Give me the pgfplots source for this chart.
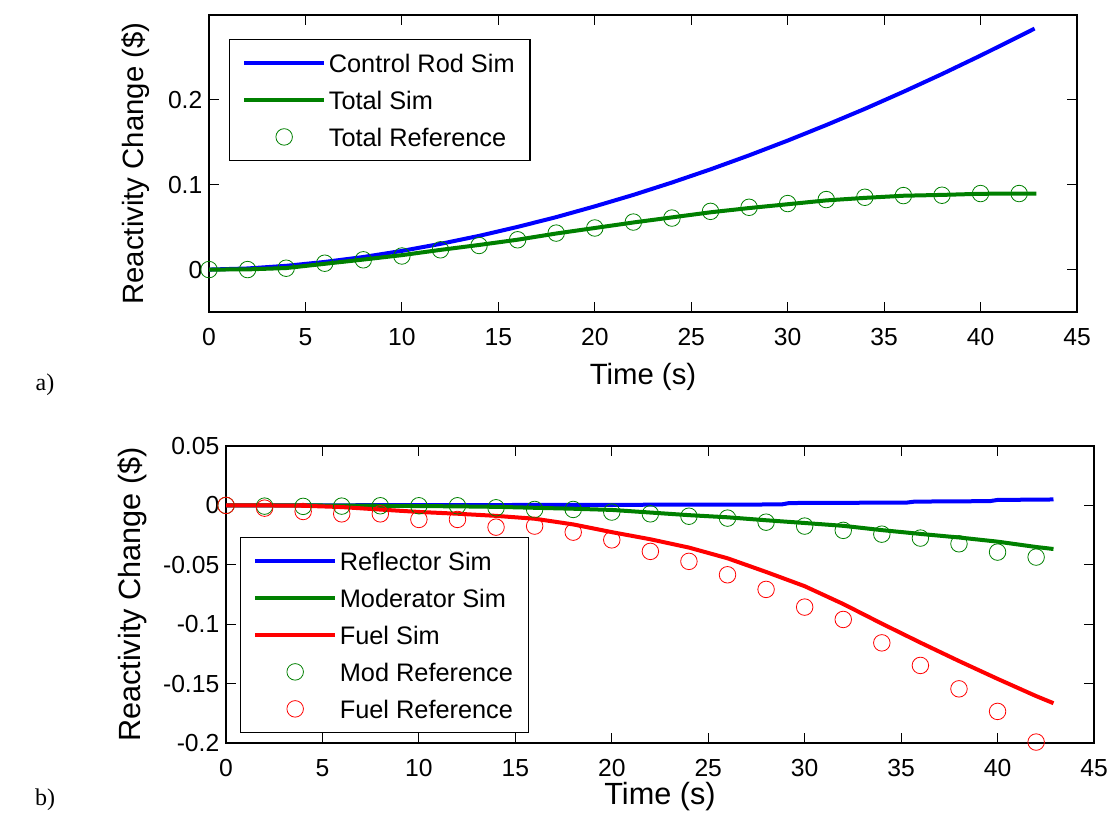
\documentclass[border=0pt]{standalone}
\usepackage{pgfplots}
\pgfplotsset{compat=1.18}
\usetikzlibrary{calc}
\usepackage{fontspec}
\setmainfont{Liberation Sans}
\newfontfamily\seriffont{Liberation Serif}
\definecolor{mgreen}{rgb}{0,0.5,0}
\begin{document}
\begin{tikzpicture}[x=1pt,y=1pt]
\useasboundingbox (0,0) rectangle (832.5,-616.5);
\pgfplotsset{
 every axis/.append style={
  scale only axis, width=651pt, height=222.75pt,
  xmin=0, xmax=45, xtick={0,5,...,45},
  tick align=inside, major tick length=7.5pt,
  axis line style={line width=1pt},
  every tick/.style={line width=0.9pt,black},
  /pgf/number format/assume math mode=true,
  ticklabel style={font=\fontsize{18.5}{20}\selectfont},
  xticklabel style={yshift=-9pt},
  yticklabel style={xshift=-1.5pt},
  legend cell align=left,
  legend image code/.code={\draw[mark repeat=2,mark phase=2] plot coordinates {(0pt,0pt) (30pt,0pt) (60pt,0pt)};},
  legend style={draw=black, line width=0.8pt, font=\fontsize{19}{21}\selectfont,
    inner xsep=9.5pt, inner ysep=6pt, row sep=4.75pt,
    nodes={inner sep=2pt, text height=17pt, text depth=2pt},
    /tikz/every even column/.append style={column sep=7.5pt}},
  sim/.style={line width=3pt},
  ref/.style={only marks, mark=o, mark size=6.2pt, mark options={line width=0.6pt}},
 }
}
% ---------- a) ----------
\begin{axis}[at={(156.75pt,-11.25pt)}, anchor=north west,
  ymin=-0.05, ymax=0.3, ytick={0,0.1,0.2}, yticklabels={0,0.1,0.2},
  xlabel={Time (s)}, ylabel={Reactivity Change (\$)},
  xlabel style={font=\fontsize{22}{24}\selectfont, inner sep=0pt, at={(rel axis cs:0.5,0)}, anchor=north, yshift=-38.5pt},
  ylabel style={font=\fontsize{22}{24}\selectfont, inner sep=0pt, at={($(rel axis cs:0,0.5)+(-44pt,0)$)}, anchor=south},
  legend style={at={(rel axis cs:0.023,0.919)}, anchor=north west}]
\addplot[sim, color=blue] coordinates {
(0,0) (2,0.0013) (4,0.0044) (6,0.0090) (8,0.0148) (10,0.0220) (12,0.0303) (14,0.0397)
(16,0.0503) (18,0.0618) (20,0.0745) (22,0.0880) (24,0.1026) (26,0.1181) (28,0.1346)
(30,0.1520) (32,0.1703) (34,0.1894) (36,0.2095) (38,0.2304) (40,0.2522) (42,0.2748) (42.8,0.2840)};
\addlegendentry{Control Rod Sim}
\addplot[sim, color=mgreen] coordinates {
(0,0) (2,0.0002) (4,0.0018) (6,0.0068) (8,0.0118) (10,0.0170) (12,0.0232) (14,0.0290)
(16,0.0352) (18,0.0425) (20,0.0490) (22,0.0555) (24,0.0615) (26,0.0675) (28,0.0725)
(30,0.0770) (32,0.0815) (34,0.0845) (36,0.0870) (38,0.0880) (40,0.0893) (42,0.0896) (42.9,0.0896)};
\addlegendentry{Total Sim}
\addplot[ref, color=mgreen] coordinates {
(0,0) (2,0) (4,0.0016) (6,0.0075) (8,0.0115) (10,0.0160) (12,0.0233) (14,0.0284)
(16,0.0351) (18,0.0430) (20,0.0490) (22,0.0560) (24,0.0607) (26,0.0686) (28,0.0734)
(30,0.0778) (32,0.0825) (34,0.0852) (36,0.0872) (38,0.0876) (40,0.0896) (42,0.0896)};
\addlegendentry{Total Reference}
\end{axis}
% ---------- b) ----------
\begin{axis}[at={(169.5pt,-334.5pt)}, anchor=north west,
  ymin=-0.2, ymax=0.05, ytick={-0.2,-0.15,-0.1,-0.05,0,0.05},
  yticklabels={-0.2,-0.15,-0.1,-0.05,0,0.05},
  xlabel={Time (s)}, ylabel={Reactivity Change (\$)},
  xlabel style={font=\fontsize{23}{25}\selectfont, inner sep=0pt, at={(rel axis cs:0.5,0)}, anchor=north, yshift=-29.5pt},
  ylabel style={font=\fontsize{23}{25}\selectfont, inner sep=0pt, at={($(rel axis cs:0,0.5)+(-59pt,0)$)}, anchor=south},
  legend style={at={(rel axis cs:0.0161,0.6936)}, anchor=north west}]
\addplot[sim, color=blue] coordinates {
(0,0) (10,0.0002) (20,0.0005) (28.8,0.0008) (29.2,0.0020) (35.3,0.0024) (35.7,0.0032)
(39.6,0.0036) (40,0.0046) (42.9,0.0050)};
\addlegendentry{Reflector Sim}
\addplot[sim, color=mgreen] coordinates {
(0,0) (4,0) (8,-0.0003) (12,-0.0008) (14,-0.0012) (16,-0.0020) (18,-0.0028) (20,-0.0038)
(22,-0.0060) (24,-0.0082) (26,-0.0100) (28,-0.0125) (30,-0.0148) (32,-0.0172) (34,-0.0208)
(36,-0.0240) (38,-0.0270) (40,-0.0305) (42,-0.0350) (42.9,-0.0367)};
\addlegendentry{Moderator Sim}
\addplot[sim, color=red] coordinates {
(0,0) (2,0) (4,-0.0003) (6,-0.0014) (8,-0.0035) (10,-0.0055) (12,-0.0070) (14,-0.0088)
(16,-0.0112) (18,-0.0160) (20,-0.0225) (22,-0.0285) (24,-0.0355) (26,-0.0445) (28,-0.0560)
(30,-0.0680) (32,-0.0830) (34,-0.0995) (36,-0.1155) (38,-0.1310) (40,-0.1460) (42,-0.1605) (42.9,-0.1665)};
\addlegendentry{Fuel Sim}
\addplot[ref, color=mgreen] coordinates {
(0,0) (2,-0.0006) (4,-0.0008) (6,-0.0006) (8,-0.0003) (10,-0.0003) (12,-0.0003) (14,-0.0020)
(16,-0.0034) (18,-0.0034) (20,-0.0056) (22,-0.0071) (24,-0.0091) (26,-0.0107) (28,-0.0141)
(30,-0.0174) (32,-0.0210) (34,-0.0242) (36,-0.0275) (38,-0.0323) (40,-0.0393) (42,-0.0435)};
\addlegendentry{Mod Reference}
\addplot[ref, color=red] coordinates {
(0,0) (2,-0.0023) (4,-0.0051) (6,-0.0071) (8,-0.0071) (10,-0.0118) (12,-0.0118) (14,-0.0183)
(16,-0.0174) (18,-0.0225) (20,-0.0290) (22,-0.0387) (24,-0.0471) (26,-0.0584) (28,-0.0707)
(30,-0.0856) (32,-0.0960) (34,-0.1157) (36,-0.1347) (38,-0.1544) (40,-0.1734) (42,-0.1992)};
\addlegendentry{Fuel Reference}
\end{axis}
\node[font=\seriffont\fontsize{18}{20}\selectfont] at (33.75,-288.75) {a)};
\node[font=\seriffont\fontsize{18}{20}\selectfont] at (33.75,-600) {b)};
\end{tikzpicture}
\end{document}
